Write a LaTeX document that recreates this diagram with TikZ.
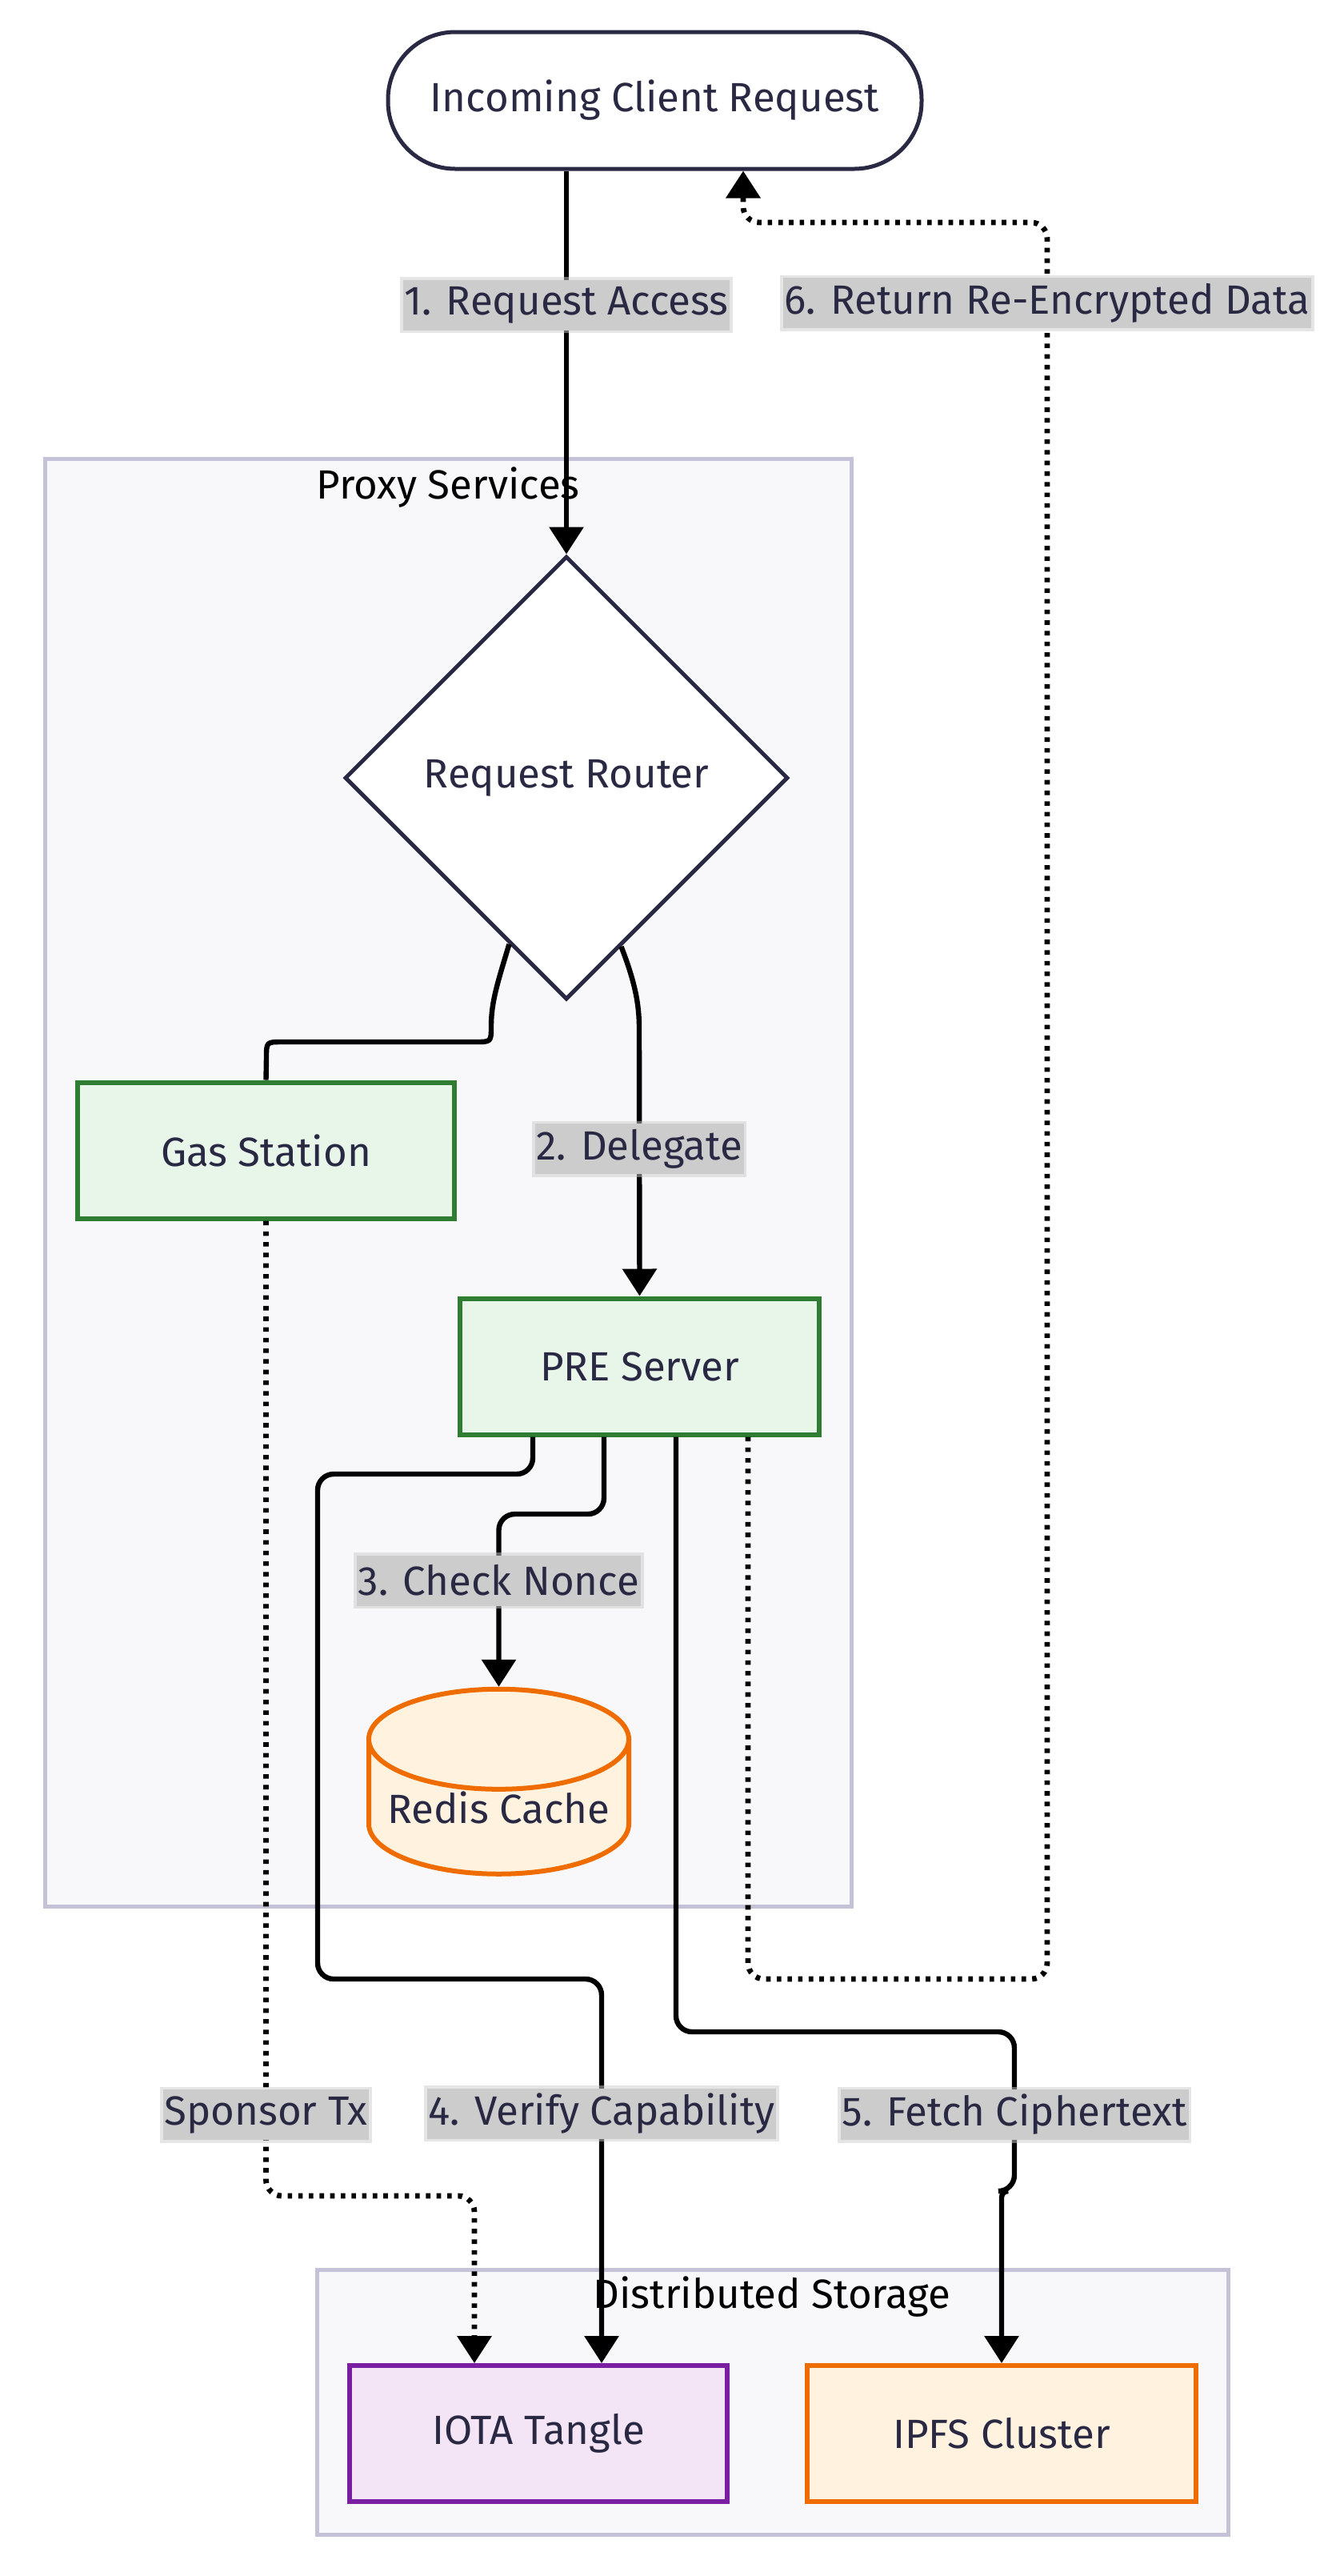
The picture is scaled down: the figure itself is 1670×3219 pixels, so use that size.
\documentclass[tikz,border=0pt]{standalone}
\usepackage{fontspec}
\setmainfont{Fira Sans}
\usepackage{xcolor}
\usetikzlibrary{arrows.meta,shapes.geometric}

\definecolor{txt}{HTML}{2A2944}
\definecolor{navy}{HTML}{2A2944}
\definecolor{clfill}{HTML}{F8F8FA}
\definecolor{clline}{HTML}{C3C2D6}
\definecolor{grnfill}{HTML}{E8F5E9}
\definecolor{grnline}{HTML}{2E7D32}
\definecolor{orgfill}{HTML}{FFF3E0}
\definecolor{orgline}{HTML}{EF6C00}
\definecolor{purfill}{HTML}{F3E5F5}
\definecolor{purline}{HTML}{7B1FA2}
\definecolor{lblbg}{HTML}{CCCCCC}

\begin{document}
\begin{tikzpicture}[x=0.5pt, y=-0.5pt,
        font=\fontsize{25.5}{30}\selectfont,
        every node/.style={text=txt},
        cluster/.style={draw=clline, fill=clfill, line width=2.5pt},
        box/.style={rectangle, line width=3pt, minimum height=85pt, inner sep=0pt},
        flow/.style={draw=black, line width=3.2pt, rounded corners=10pt},
        dotflow/.style={line width=3.4pt, dash pattern=on 2.8pt off 3.85pt},
        arr/.style={-{Triangle[length=17pt,width=21pt]}},
        lbl/.style={solid, sharp corners, fill=lblbg, draw=lblbg, draw opacity=0.5, line width=3.5pt,
            inner xsep=1pt, inner ysep=0pt, minimum height=31.5pt}]
        \useasboundingbox[fill=white] (0,0) rectangle (1670,3219);

        % Gruppi
        \draw[cluster] (56,573) rectangle (1064,2382);
        \node[text=black] (proxytitle) at (560,609) {Proxy Services};
        \draw[cluster] (396,2836) rectangle (1535,3167);
        \node[text=black] (storetitle) at (965,2870) {Distributed Storage};

        % Nodi
        \node[rectangle, draw=navy, fill=white, line width=2.5pt, rounded corners=42pt,
            minimum width=333.5pt, minimum height=85.5pt] (start) at (818.5,125.5) {Incoming Client Request};
        \node[diamond, aspect=1, draw=navy, fill=white, line width=2.5pt,
            minimum size=277pt, inner sep=0pt] (router) at (708,972) {Request Router};
        \node[box, draw=grnline, fill=grnfill, minimum width=235.5pt] (gas) at (332.5,1437.5) {Gas Station};
        \node[box, draw=grnline, fill=grnfill, minimum width=224.5pt] (pre) at (799.5,1707.5) {PRE Server};
        \node[cylinder, shape border rotate=90, aspect=0.45, draw=orgline, fill=orgfill, line width=3pt,
            minimum width=162.5pt, minimum height=114.5pt, inner sep=0pt] (redis) at (623.5,2259) {Redis Cache};
        \node[box, draw=purline, fill=purfill, minimum width=236pt] (iota) at (673,3041) {IOTA Tangle};
        \node[box, draw=orgline, fill=orgfill, minimum width=243pt] (ipfs) at (1252,3041) {IPFS Cluster};

        % Frecce
        \draw[flow, arr] (start.south -| router.north) -- node[lbl, pos=0.35] {1. Request Access} (router.north);
        \draw[flow, sharp corners] (router.251) .. controls (622,1228) and (614,1252) .. (614,1282)
            .. controls (614,1302) .. (594,1302) -- (353,1302) .. controls (333,1302) .. (333,1322) -- (gas.north);
        \draw[flow, arr, sharp corners] (router.288) .. controls (794,1228) and (799,1255) .. (799,1285)
            -- node[lbl, pos=0.45] {2. Delegate} (pre.north);
        \draw[flow, arr] ([xshift=-22.25pt]pre.south) |- (redis.north |- 0,1892) -- node[lbl, pos=0.385] {3. Check Nonce} (redis.north);
        \draw[flow, arr] ([xshift=-66.75pt]pre.south) |- (397,1842) |- (752,2473)
            -- node[lbl, pos=0.35] {4. Verify Capability} ([xshift=39.5pt]iota.north);
        \draw[flow, arr] ([xshift=22.75pt]pre.south) |- (1268,2539)
            -- node[lbl, pos=0.52] {5. Fetch Ciphertext} (1268,2738) [rounded corners=4pt] -| (ipfs.north);
        \draw[flow, dotflow, arr] ([xshift=67.75pt]pre.south) |- (1309,2473)
            -- node[lbl, pos=0.954] {6. Return Re-Encrypted Data} (1309,278) -| ([xshift=55.25pt]start.south);
        \draw[flow, dotflow, arr] (gas.south) -- node[lbl, pos=0.917] {Sponsor Tx} (gas.south |- 0,2744)
            -| ([xshift=-40pt]iota.north);
    \end{tikzpicture}
\end{document}
